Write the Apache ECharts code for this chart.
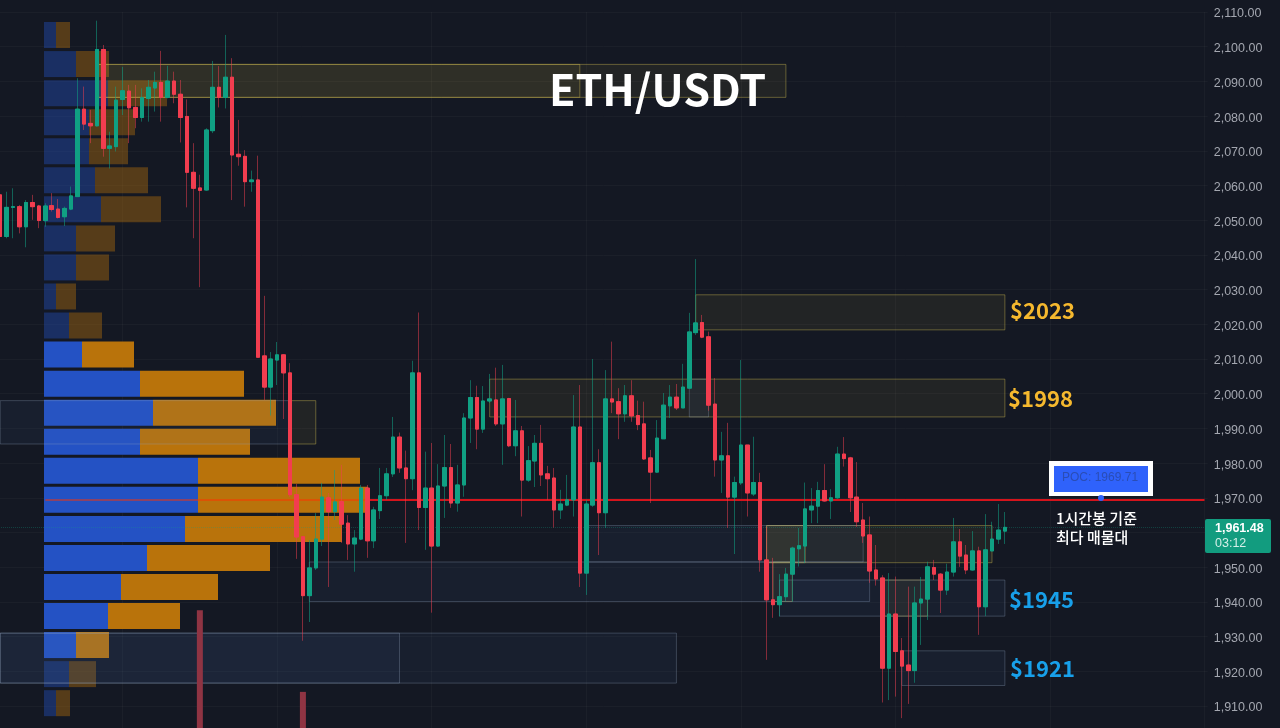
<!DOCTYPE html>
<html>
<head>
<meta charset="utf-8">
<title>ETH/USDT</title>
<script src="https://cdn.jsdelivr.net/npm/echarts@6/dist/echarts.min.js"></script>
<style>
  html, body { margin: 0; padding: 0; background: #141823; }
  #chart { width: 1280px; height: 728px; }
</style>
</head>
<body>
<div id="chart"></div>
<script>
// candles, left to right (hourly)
const opens = [
  2057.3,2045.3,2053.7,2053.9,2048.1,2055.1,2054.1,2049.9,2054.2,2053.2,
  2051,2053.2,2056.8,2082,2077.9,2077.2,2099.2,2070.7,2071.2,2084.8,
  2087.2,2082.5,2079.6,2085.1,2088.1,2089.7,2085.4,2090.1,2086.3,2079.9,
  2063.8,2059.3,2058.7,2075.8,2088.3,2085.4,2091.2,2069,2068.4,2061.1,
  2061.6,2010.9,2001.9,2009.7,2011.2,2006,1970.9,1958.8,1941.8,1949.8,
  1958.1,1970,1966,1968.9,1962.7,1956.7,1958.1,1972.8,1957.6,1966.3,
  1970.6,1976.9,1987.5,1978.6,1975.5,2006,1967.2,1972.8,1956.1,1973.4,
  1978.7,1968.5,1973.7,1993,1998.9,1989.8,1997.9,1998.2,1991.3,1998.6,
  1985,1989.3,1975.1,1980.6,1985.7,1976.9,1975.7,1966.5,1967.9,1969.4,
  1990.4,1948.3,1967.9,1980.1,1965.7,1998.5,1997.7,1994.2,1999.4,1993.7,
  1991.3,1981.5,1977.4,1987,1996.5,1999,1995.9,2001.6,2017.6,2020.5,
  2016.4,1997,1980.9,1982.1,1970.2,1974.3,1985.2,1971.1,1974.4,1952.1,
  1940.6,1939.2,1941.5,1948,1955.3,1956.1,1966.5,1967.6,1972.1,1969.1,
  1970,1982.6,1981.5,1970.2,1963.6,1959.3,1949.2,1946.9,1920.9,1936.5,
  1925.9,1921.8,1920.2,1939.7,1940.8,1949.9,1948,1943.4,1948.6,1957.3,
  1953.5,1949.2,1954.7,1938.6,1954.7,1958.1,1960.4
];
const closes = [
  2045.3,2053.7,2053.9,2048.1,2055.1,2053.9,2049.9,2054.1,2053.1,2050.8,
  2053.4,2057,2082,2077.7,2077.2,2099.2,2070.7,2071.4,2084.6,2087.3,
  2082.4,2079.6,2085.3,2088.3,2089.7,2085.4,2090.1,2086.3,2079.6,2063.8,
  2059.2,2058.6,2076,2088.3,2085.4,2091.2,2068.8,2068.3,2061.1,2061.6,
  2010.5,2001.9,2010,2011.2,2006,1970.9,1958.7,1941.8,1949.8,1958.1,
  1970.2,1966,1968.8,1962.4,1956.7,1958.4,1972.8,1957.6,1966.5,1970.6,
  1976.9,1987.5,1978.6,1975.5,2006,1967.2,1972.8,1956.1,1973.4,1978.7,
  1968.5,1973.7,1993,1998.9,1989.8,1997.9,1998.5,1991.3,1998.5,1985,
  1989.3,1975.1,1980.7,1985.7,1976.6,1975.5,1966.5,1968.2,1969.4,1990.4,
  1948.3,1968.2,1980.1,1965.7,1998.5,1997.6,1994.2,1999.4,1993.6,1991.1,
  1981.2,1977.4,1987.2,1996.7,1999,1995.9,2001.9,2017.8,2020.4,2016.3,
  1996.7,1980.9,1982.1,1970.2,1974.4,1985.2,1971.4,1974.4,1952.1,1940.6,
  1939.2,1941.5,1948,1955.5,1956.2,1966.8,1967.6,1972.1,1969.1,1970,
  1982.6,1981.3,1970,1963.1,1959,1948.9,1946.6,1920.9,1936.5,1925.7,
  1921.5,1920.2,1939.7,1940.8,1950.1,1948,1943.4,1948.6,1957.3,1953.2,
  1949.2,1954.7,1938.6,1955,1958.1,1960.7,1961.48
];
const lows = [
  2044.8,2044.8,2044.8,2046.2,2042.2,2050.1,2047.7,2048.1,2052.5,2050.5,
  2048.3,2052.9,2056.8,2076,2072.2,2077,2068.3,2064.9,2069.8,2080.3,
  2072.2,2076.5,2078.4,2078.4,2081.3,2078.4,2085.1,2083.7,2072.4,2053.7,
  2044.8,2030.7,2058.5,2075.1,2082.5,2082.2,2055.8,2065.7,2053.9,2058.2,
  2010.5,1998.2,1993.7,2002.5,1992.7,1970.2,1952.4,1928.8,1934.2,1949.2,
  1956.1,1944.3,1963.6,1957,1952.1,1948.7,1957.8,1952.7,1955.5,1963.9,
  1969.4,1976,1977.2,1957,1972.2,1960.7,1955,1936.9,1955.9,1964.2,
  1967.1,1966,1970.3,1985.8,1984,1988.7,1997.3,1990.7,1979.5,1984.6,
  1982,1964.6,1974.6,1973.1,1973.4,1969.4,1961.4,1963.9,1967.6,1964.6,
  1944.3,1942,1967.4,1953.5,1961.3,1994.4,1986.9,1991.9,1991.9,1989.5,
  1980.9,1968.5,1977.2,1987,1993,1995.3,1995.9,2001.6,2016.9,2016,
  1995.1,1976.1,1971.4,1961.3,1953.8,1973.7,1964.6,1970.5,1948.7,1923.3,
  1935.4,1935.8,1940.1,1940.1,1950.2,1951.2,1962.7,1962.7,1968.9,1963.9,
  1969.7,1979,1965.9,1961.6,1957,1945.5,1944.7,1911,1911.7,1912.7,
  1906.5,1910.6,1916.7,1927.6,1934.8,1946.3,1936.8,1942,1947.3,1950.1,
  1948,1949,1930.5,1935.9,1954.6,1956.7,1956.7
];
const highs = [
  2057.3,2058.2,2059.2,2054.4,2055.8,2057.3,2054.4,2054.9,2057.8,2056.1,
  2053.9,2059.7,2090.9,2088.5,2081.8,2107.5,2100.5,2075.5,2088.5,2094.2,
  2089,2089,2088,2090.4,2092.8,2098.8,2094.5,2092.8,2090.4,2084.8,
  2072.2,2063.1,2076.5,2095.9,2094.4,2103.4,2096.7,2078.9,2070.2,2064.3,
  2068.6,2028.2,2012,2014.9,2011.4,2008.8,1974,1959,1957.8,1965.6,
  1974.3,1971.4,1978,1979.5,1965,1960.7,1973.7,1973.7,1967.4,1978.6,
  1978.6,1993.3,1988.8,1983.6,2009.5,2023.4,1983.3,1985.8,1979.7,1988.1,
  1985.5,1979.5,1994.4,2003.9,2002.3,2002.2,2005.7,2007.5,2008.3,1998.8,
  1998.2,1990.7,1984.9,1988.1,1991,1979.2,1978.6,1972.3,1976.6,1999.6,
  2002.5,1969.4,2010,1984,2006.8,2015,2001.6,2002.5,2003.9,1998,
  1997.7,1983.8,1992.4,2000.2,2002.5,2002.8,2008.6,2023.3,2038.8,2022.7,
  2017.9,2004.5,1989,1991.6,1976.1,2009.7,1985.2,1987.6,1977.2,1961.6,
  1952.7,1948,1949.8,1955.9,1961.3,1974.4,1972.8,1974.6,1979.7,1972.5,
  1984.7,1987.5,1981.8,1980.3,1968.5,1964.6,1956.4,1947.7,1948.3,1947.3,
  1929.6,1944.4,1944.4,1947.2,1951.6,1952.1,1948.3,1951,1964.2,1961,
  1956.4,1960.4,1955.9,1965.3,1963.1,1968.2,1965.9
];

// volume profile rows, top row first
const profileBuy  = [12,32,64,45,45,51,57,32,32,12,25,38,96,109,96,154,154,141,103,77,64,32,25,12];
const profileSell = [14,33,59,46,39,53,60,39,33,20,33,52,104,123,110,162,170,157,123,97,72,33,27,14];

// the only two volume bars that reach into view
const volumeSlots = [31, 47];
const volumeValues = [179, 67];

// zones: from slot, to slot, top price, bottom price
const yellowZones = [
  [15, 122, 2094.9, 2085.4],
  [15, 90, 2094.9, 2085.4],
  [108, 156, 2028.5, 2018.4],
  [76, 156, 2004.2, 1993.3],
  [45, 49, 1998, 1985.5],
  [119, 154, 1962, 1951.3],
  [119, 125, 1962, 1951.3],
  [120, 123, 1951.5, 1940.1],
  [137, 144, 1946.3, 1935.9]
];
const blueZones = [
  [0, 45, 1998, 1985.5],
  [107, 110, 2004.2, 1993.3],
  [91, 134, 1962, 1951.5],
  [48, 135, 1951.5, 1940.1],
  [121, 156, 1946.3, 1935.9],
  [140, 156, 1925.9, 1915.9],
  [0, 105, 1931, 1916.6],
  [0, 62, 1931, 1916.6]
];

const lastPrice = 1961.48;
const pocPrice = 1969.4;
const slotCount = 188;
const categories = Array.from({ length: slotCount }, (_, i) => String(i));
const rowNames = profileBuy.map((_, i) => String(i));

const UP = '#10a083';
const DOWN = '#f23d4f';

function rowOpacity(i) {
  return i >= 11 && i <= 21 ? 1 : 0.4;
}

function zoneItems(zones) {
  return zones.map(z => [
    { xAxis: categories[z[0]], yAxis: z[2] },
    { xAxis: categories[z[1]], yAxis: z[3] }
  ]);
}

function fmtPrice(v) {
  return v.toLocaleString('en-US', { minimumFractionDigits: 2, maximumFractionDigits: 2 });
}

const chart = echarts.init(document.getElementById('chart'));

const option = {
  backgroundColor: '#141823',
  animation: false,
  grid: [
    { left: -3, top: 12, width: 1210.72, height: 728.7, outerBoundsMode: 'none' },
    { left: 44, top: 20.5, width: 1000, height: 697.2, outerBoundsMode: 'none' },
    // price labels sit on their own grid, 2px lower than the gridlines
    { left: -3, top: 14, width: 1210.72, height: 728.7, outerBoundsMode: 'none' }
  ],
  xAxis: [
    {
      type: 'category',
      gridIndex: 0,
      data: categories,
      axisLine: { show: false },
      axisTick: { show: false },
      axisLabel: { show: false },
      splitLine: {
        show: true,
        alignWithLabel: true,
        interval: i => i % 24 === 19,
        lineStyle: { color: 'rgba(255,255,255,0.03)' }
      }
    },
    { type: 'value', gridIndex: 1, min: 0, max: 1000, show: false },
    { type: 'category', gridIndex: 2, data: categories, show: false }
  ],
  yAxis: [
    {
      type: 'value',
      gridIndex: 0,
      position: 'right',
      min: 1900,
      max: 2110,
      interval: 10,
      axisLine: { show: false },
      axisTick: { show: false },
      axisLabel: { show: false },
      splitLine: { lineStyle: { color: 'rgba(255,255,255,0.03)' } }
    },
    { type: 'value', gridIndex: 0, min: 0, max: 1000, show: false },
    { type: 'category', gridIndex: 1, inverse: true, data: rowNames, show: false },
    {
      type: 'value',
      gridIndex: 2,
      position: 'right',
      min: 1900,
      max: 2110,
      interval: 10,
      axisLine: { show: false },
      axisTick: { show: false },
      splitLine: { show: false },
      axisLabel: {
        color: '#a4a7b0',
        fontFamily: 'Liberation Sans',
        fontSize: 12.5,
        margin: 6,
        formatter: fmtPrice
      }
    }
  ],
  series: [
    {
      name: 'buy',
      type: 'bar',
      xAxisIndex: 1,
      yAxisIndex: 2,
      stack: 'profile',
      barWidth: 26,
      z: 1,
      data: profileBuy.map((v, i) => ({ value: v, itemStyle: { color: '#2452c4', opacity: rowOpacity(i) } }))
    },
    {
      name: 'sell',
      type: 'bar',
      xAxisIndex: 1,
      yAxisIndex: 2,
      stack: 'profile',
      barWidth: 26,
      z: 1,
      data: profileSell.map((v, i) => ({ value: v, itemStyle: { color: '#b9730b', opacity: rowOpacity(i) } }))
    },
    {
      name: 'volume',
      type: 'bar',
      xAxisIndex: 0,
      yAxisIndex: 1,
      barWidth: 6,
      z: 2,
      itemStyle: { color: '#8f3443' },
      data: volumeSlots.map((s, i) => [categories[s], volumeValues[i]])
    },
    {
      name: 'yellow zones',
      type: 'line',
      xAxisIndex: 0,
      yAxisIndex: 0,
      data: [],
      markArea: {
        silent: true,
        z: 2,
        itemStyle: {
          color: 'rgba(225,200,70,0.07)',
          borderColor: 'rgba(205,185,80,0.42)',
          borderWidth: 1
        },
        data: zoneItems(yellowZones)
      }
    },
    {
      name: 'blue zones',
      type: 'line',
      xAxisIndex: 0,
      yAxisIndex: 0,
      data: [],
      markArea: {
        silent: true,
        z: 2,
        itemStyle: {
          color: 'rgba(80,120,180,0.08)',
          borderColor: 'rgba(150,170,195,0.3)',
          borderWidth: 1
        },
        data: zoneItems(blueZones)
      }
    },
    {
      name: 'levels',
      type: 'line',
      xAxisIndex: 0,
      yAxisIndex: 0,
      data: [],
      markLine: {
        silent: true,
        z: 2,
        symbol: 'none',
        label: { show: false },
        data: [
          [
            { coord: [categories[7], pocPrice], lineStyle: { color: 'rgba(255,50,0,0.65)', width: 1.5, type: 'solid' } },
            { coord: [categories[57], pocPrice] }
          ],
          [
            { coord: [categories[57], pocPrice], lineStyle: { color: '#d5141c', width: 2, type: 'solid' } },
            { coord: [categories[slotCount - 1], pocPrice] }
          ],
          { yAxis: lastPrice, lineStyle: { color: 'rgba(16,160,131,0.3)', width: 1, type: 'dotted' } }
        ]
      }
    },
    {
      name: 'wicks',
      type: 'candlestick',
      xAxisIndex: 0,
      yAxisIndex: 0,
      barWidth: 4,
      z: 3,
      itemStyle: {
        color: 'rgba(16,160,131,0.55)',
        color0: 'rgba(242,61,79,0.5)',
        borderColor: 'rgba(16,160,131,0.55)',
        borderColor0: 'rgba(242,61,79,0.5)',
        borderWidth: 1
      },
      data: opens.map((o, i) => [o, closes[i], lows[i], highs[i]])
    },
    {
      name: 'bodies',
      type: 'candlestick',
      xAxisIndex: 0,
      yAxisIndex: 0,
      barWidth: 4,
      z: 4,
      itemStyle: {
        color: UP,
        color0: DOWN,
        borderColor: UP,
        borderColor0: DOWN,
        borderWidth: 1
      },
      data: opens.map((o, i) => [o, closes[i], Math.min(o, closes[i]), Math.max(o, closes[i])])
    }
  ],
  graphic: [
    {
      type: 'text', z: 100, left: 549, top: 68,
      style: { text: 'ETH/USDT', fill: '#ffffff', font: 'bold 43px "Noto Sans CJK KR"' }
    },
    {
      type: 'text', z: 100, left: 1010, top: 300,
      style: { text: '$2023', fill: '#f5b82e', font: 'bold 22px "Noto Sans CJK KR"' }
    },
    {
      type: 'text', z: 100, left: 1008, top: 388,
      style: { text: '$1998', fill: '#f5b82e', font: 'bold 22px "Noto Sans CJK KR"' }
    },
    {
      type: 'text', z: 100, left: 1009, top: 589,
      style: { text: '$1945', fill: '#18a0ea', font: 'bold 22px "Noto Sans CJK KR"' }
    },
    {
      type: 'text', z: 100, left: 1010, top: 658,
      style: { text: '$1921', fill: '#18a0ea', font: 'bold 22px "Noto Sans CJK KR"' }
    },
    { type: 'rect', z: 100, shape: { x: 1049, y: 461, width: 104, height: 35 }, style: { fill: '#ffffff' } },
    { type: 'rect', z: 101, shape: { x: 1054, y: 466, width: 94, height: 26 }, style: { fill: '#2f62fb' } },
    {
      type: 'text', z: 102, left: 1062, top: 472,
      style: { text: 'POC: 1969.71', fill: '#2a4db5', font: '12px "Liberation Sans"' }
    },
    { type: 'circle', z: 100, shape: { cx: 1101, cy: 498, r: 3 }, style: { fill: '#2f62fb' } },
    {
      type: 'text', z: 100, left: 1056, top: 509,
      style: {
        text: '1시간봉 기준\n최다 매물대',
        fill: '#ffffff',
        lineHeight: 19,
        font: '500 15px "Noto Sans CJK KR"'
      }
    },
    {
      type: 'rect', z: 100,
      shape: { x: 1205, y: 519, width: 66, height: 34, r: 2 },
      style: { fill: '#129c7f' }
    },
    {
      type: 'text', z: 101, left: 1215, top: 522,
      style: { text: fmtPrice(lastPrice), fill: '#ffffff', font: 'bold 12.5px "Liberation Sans"' }
    },
    {
      type: 'text', z: 101, left: 1215, top: 537,
      style: { text: '03:12', fill: '#d5efe8', font: '12.5px "Liberation Sans"' }
    }
  ]
};

chart.setOption(option);
</script>
</body>
</html>
